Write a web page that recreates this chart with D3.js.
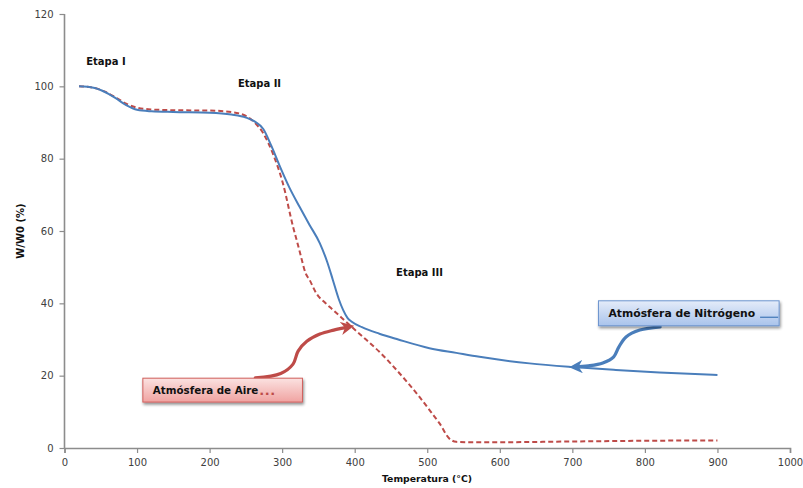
<!DOCTYPE html>
<html>
<head>
<meta charset="utf-8">
<script src="https://cdn.jsdelivr.net/npm/d3@7/dist/d3.min.js"></script>
<style>
  html, body { margin: 0; padding: 0; background: #fff; }
  svg { display: block; }
</style>
</head>
<body>
<svg id="chart" width="803" height="488"></svg>
<script>
// Thermogravimetric curves: residual mass (%) vs temperature (°C)
const nitrogenT = [20, 40, 55, 70, 85, 100, 120, 150, 200, 230, 250, 262, 274, 285, 297, 310, 324, 338, 352, 362, 370, 378, 384, 390, 396, 410, 434, 460, 503, 540, 572, 641, 700, 760, 820, 900];
const nitrogenW = [100, 99.6, 98.5, 96.8, 94.8, 93.5, 93.1, 92.9, 92.7, 92.2, 91.4, 90.3, 88.2, 83.6, 77.8, 72, 66.7, 61.6, 56.6, 51.5, 46.4, 41.2, 38.2, 36, 34.9, 33.4, 31.6, 30, 27.6, 26.3, 25.2, 23.4, 22.4, 21.6, 20.9, 20.2];

const airT = [20, 40, 55, 70, 85, 100, 120, 150, 200, 230, 250, 262, 274, 287, 301, 315, 322, 326, 332, 338, 347, 360, 370, 393, 416, 434, 462, 489, 505, 517, 530, 540, 560, 600, 700, 800, 900];
const airW = [100, 99.6, 98.6, 97, 95.2, 94.1, 93.6, 93.4, 93.3, 92.9, 91.8, 90.0, 87.0, 81.5, 73.2, 61.2, 56, 52.9, 48.5, 46.4, 42.8, 40, 38.2, 34, 29.9, 26.6, 20.6, 14.2, 10, 6.8, 2.7, 1.7, 1.6, 1.6, 1.8, 2.0, 2.1];

const xTicks = [0, 100, 200, 300, 400, 500, 600, 700, 800, 900, 1000];
const yTicks = [0, 20, 40, 60, 80, 100, 120];

const stageLabels = ["Etapa I", "Etapa II", "Etapa III"];
const stageT = [30, 239, 457];
const stageW = [105.9, 99.8, 47.6];

const airLabel = "Atmósfera de Aire";
const nitrogenLabel = "Atmósfera de Nitrógeno";

const xTitle = "Temperatura (°C)";
const yTitle = "W/W0 (%)";

// Annotation callouts, in data units (T, W)
const airBox = { t0: 108, t1: 328, w0: 12.7, w1: 19.3 };
const airArrowT = [263, 298, 315, 322, 334, 352, 371, 392];
const airArrowW = [19.4, 20.6, 23.2, 26.8, 29.5, 31.5, 32.6, 33.5];
const n2Box = { t0: 736, t1: 985, w0: 33.8, w1: 40.7 };
const n2ArrowT = [821, 793, 774, 764, 757, 742, 722, 703];
const n2ArrowW = [33.5, 32.6, 30.7, 27.9, 25.2, 23.5, 22.7, 22.4];

const colBlue = "#4a7ebb";
const colRed = "#be4b48";
const axisCol = "#8c8c8c";
const textFont = "'DejaVu Sans', Verdana, sans-serif";

const svg = d3.select("#chart");
const margin = { left: 64.5, right: 13, top: 14, bottom: 40 };
const W = 803, H = 488;

const x = d3.scaleLinear().domain([0, 1000]).range([margin.left, W - margin.right]);
const y = d3.scaleLinear().domain([0, 120]).range([H - margin.bottom, margin.top]);

// defs: gradients, shadows, arrowheads
const defs = svg.append("defs");
const gRed = defs.append("linearGradient").attr("id", "gradRed").attr("x1", 0).attr("y1", 0).attr("x2", 0).attr("y2", 1);
gRed.append("stop").attr("offset", "0%").attr("stop-color", "#fbe2e1");
gRed.append("stop").attr("offset", "100%").attr("stop-color", "#f0a3a1");
const gBlue = defs.append("linearGradient").attr("id", "gradBlue").attr("x1", 0).attr("y1", 0).attr("x2", 0).attr("y2", 1);
gBlue.append("stop").attr("offset", "0%").attr("stop-color", "#e4ecf9");
gBlue.append("stop").attr("offset", "100%").attr("stop-color", "#a9c3ec");

const shadow = defs.append("filter").attr("id", "shadow").attr("x", "-10%").attr("y", "-30%").attr("width", "130%").attr("height", "180%");
shadow.append("feGaussianBlur").attr("in", "SourceAlpha").attr("stdDeviation", 1.6).attr("result", "b");
shadow.append("feOffset").attr("in", "b").attr("dx", 1).attr("dy", 2).attr("result", "o");
shadow.append("feComponentTransfer").attr("in", "o").attr("result", "s")
  .append("feFuncA").attr("type", "linear").attr("slope", 0.45);
const merge = shadow.append("feMerge");
merge.append("feMergeNode").attr("in", "s");
merge.append("feMergeNode").attr("in", "SourceGraphic");

function arrowMarker(id, color) {
  defs.append("marker").attr("id", id)
    .attr("viewBox", "0 0 10 10").attr("refX", 6).attr("refY", 5)
    .attr("markerWidth", 4.2).attr("markerHeight", 4.2)
    .attr("orient", "auto")
    .append("path").attr("d", "M0,0 L10,5 L0,10 L3,5 Z").attr("fill", color);
}
arrowMarker("arrowRed", colRed);
arrowMarker("arrowBlue", colBlue);

// axes
const yAxis = d3.axisLeft(y).tickValues(yTicks).tickSize(5).tickPadding(6).tickFormat(d3.format("d"));
const xAxis = d3.axisBottom(x).tickValues(xTicks).tickSize(5).tickPadding(6).tickFormat(d3.format("d"));

const gy = svg.append("g").attr("transform", `translate(${margin.left},0)`).call(yAxis);
const gx = svg.append("g").attr("transform", `translate(0,${y(0)})`).call(xAxis);
[gx, gy].forEach(g => {
  g.select(".domain").attr("stroke", axisCol).attr("stroke-width", 1.6);
  g.selectAll(".tick line").attr("stroke", axisCol).attr("stroke-width", 1.2);
  g.selectAll(".tick text").attr("fill", "#404040").style("font-family", textFont).style("font-size", "10px");
});
gy.select(".domain").attr("d", `M-0,${y(120)}V${y(0)}`);

// axis titles
svg.append("text").attr("x", 427).attr("y", 482)
  .attr("text-anchor", "middle").style("font-family", textFont).style("font-weight", "bold")
  .style("font-size", "9.3px").attr("fill", "#111").text(xTitle);
svg.append("text").attr("transform", `translate(24,${(y(0) + y(120)) / 2}) rotate(-90)`)
  .attr("text-anchor", "middle").style("font-family", textFont).style("font-weight", "bold")
  .style("font-size", "10px").attr("fill", "#111").text(yTitle);

// curves
const line = d3.line().x(d => x(d[0])).y(d => y(d[1])).curve(d3.curveMonotoneX);
const nitrogen = nitrogenT.map((t, i) => [t, nitrogenW[i]]);
const air = airT.map((t, i) => [t, airW[i]]);

svg.append("path").datum(air).attr("d", line).attr("fill", "none")
  .attr("stroke", colRed).attr("stroke-width", 2).attr("stroke-dasharray", "5,3");
svg.append("path").datum(nitrogen).attr("d", line).attr("fill", "none")
  .attr("stroke", colBlue).attr("stroke-width", 2);

// stage labels
stageLabels.forEach((s, i) => {
  svg.append("text").attr("x", x(stageT[i])).attr("y", y(stageW[i]))
    .style("font-family", textFont).style("font-weight", "bold").style("font-size", "10px")
    .attr("fill", "#111").text(s);
});

// callout arrows
const arrowLine = d3.line().x(d => x(d[0])).y(d => y(d[1])).curve(d3.curveCatmullRom.alpha(0.5));
svg.append("path").datum(airArrowT.map((t, i) => [t, airArrowW[i]]))
  .attr("d", arrowLine).attr("fill", "none").attr("stroke", colRed).attr("stroke-width", 3.2)
  .attr("stroke-linecap", "round").attr("marker-end", "url(#arrowRed)");
svg.append("path").datum(n2ArrowT.map((t, i) => [t, n2ArrowW[i]]))
  .attr("d", arrowLine).attr("fill", "none").attr("stroke", colBlue).attr("stroke-width", 3.2)
  .attr("stroke-linecap", "round").attr("marker-end", "url(#arrowBlue)");

// callout boxes
function callout(box, grad, border, label, size) {
  const g = svg.append("g");
  const bx = x(box.t0), by = y(box.w1), bw = x(box.t1) - x(box.t0), bh = y(box.w0) - y(box.w1);
  g.append("rect").attr("x", bx).attr("y", by).attr("width", bw).attr("height", bh)
    .attr("fill", `url(#${grad})`).attr("stroke", border).attr("stroke-width", 1)
    .attr("filter", "url(#shadow)");
  const t = g.append("text").attr("x", bx + 10).attr("y", by + bh / 2 + 3.8)
    .style("font-family", textFont).style("font-weight", "bold").style("font-size", size + "px")
    .attr("fill", "#111").text(label);
  return { g, bx, by, bw, bh, t };
}
const ca = callout(airBox, "gradRed", "#d0605d", airLabel, 10.3);
const aw = ca.t.node().getComputedTextLength();
ca.g.append("text").attr("x", ca.bx + 10 + aw + 1).attr("y", ca.by + ca.bh / 2 + 4.5)
  .style("font-family", textFont).style("font-weight", "bold").style("font-size", "13px")
  .attr("fill", colRed).attr("letter-spacing", "0.5px").text("...");

const cn = callout(n2Box, "gradBlue", "#6d95cf", nitrogenLabel, 10.8);
const nw = cn.t.node().getComputedTextLength();
cn.g.append("line").attr("x1", cn.bx + 10 + nw + 5).attr("x2", cn.bx + cn.bw - 1)
  .attr("y1", cn.by + cn.bh / 2 + 4).attr("y2", cn.by + cn.bh / 2 + 4)
  .attr("stroke", colBlue).attr("stroke-width", 1.3);
</script>
</body>
</html>
